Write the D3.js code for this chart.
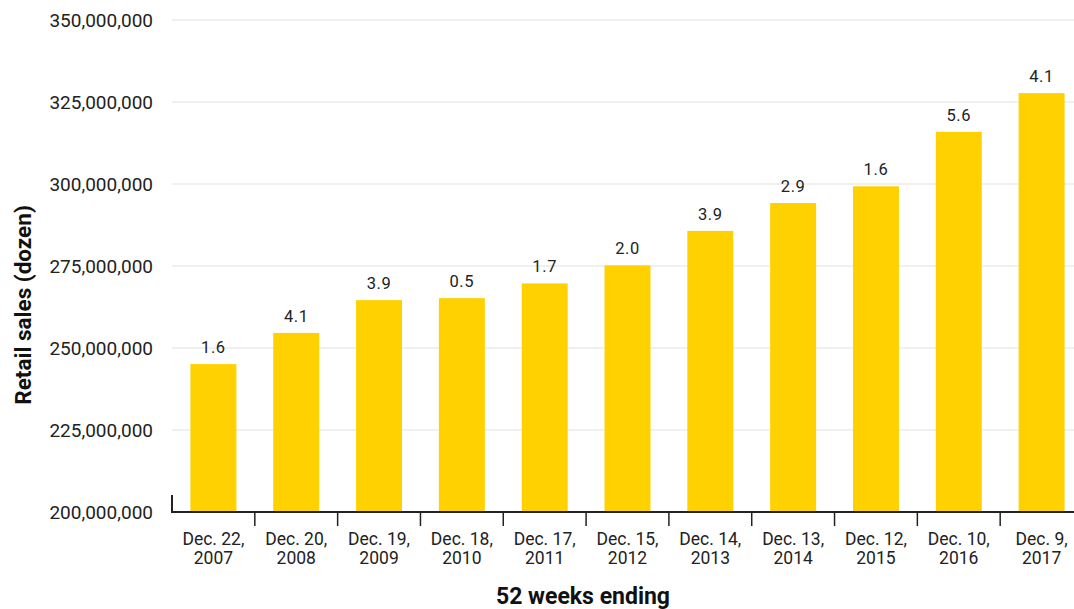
<!DOCTYPE html>
<html>
<head>
<meta charset="utf-8">
<script src="https://cdn.jsdelivr.net/npm/d3@7"></script>
<style>
  html, body { margin: 0; padding: 0; background: #fff; }
  svg { display: block; font-family: Roboto, "DejaVu Sans", sans-serif; }
</style>
</head>
<body>
<svg id="chart" width="1074" height="609"></svg>
<script>
// 52-week periods (two-line labels)
const periods = [
  ["Dec. 22,", "2007"], ["Dec. 20,", "2008"], ["Dec. 19,", "2009"],
  ["Dec. 18,", "2010"], ["Dec. 17,", "2011"], ["Dec. 15,", "2012"],
  ["Dec. 14,", "2013"], ["Dec. 13,", "2014"], ["Dec. 12,", "2015"],
  ["Dec. 10,", "2016"], ["Dec. 9,", "2017"]
];
// Retail sales in dozens
const sales = [
  245100000, 254600000, 264600000, 265200000, 269700000, 275200000,
  285700000, 294200000, 299300000, 315900000, 327700000
];
// Year-over-year change (%) shown above each bar
const changes = ["1.6", "4.1", "3.9", "0.5", "1.7", "2.0", "3.9", "2.9", "1.6", "5.6", "4.1"];
const yTicks = [200000000, 225000000, 250000000, 275000000, 300000000, 325000000, 350000000];

const svg = d3.select("#chart");
const plotLeft = 172, plotRight = 1083, plotTop = 20, plotBottom = 512;
const ink = "#222";

const keys = periods.map(p => p.join(" "));
const x = d3.scaleBand().domain(keys).range([plotLeft, plotRight])
  .paddingInner(0.445).paddingOuter(0.2225);
const y = d3.scaleLinear().domain([200000000, 350000000]).range([plotBottom, plotTop]);

// horizontal gridlines
svg.append("g").selectAll("line").data(yTicks.slice(1)).join("line")
  .attr("x1", plotLeft).attr("x2", 1074)
  .attr("y1", d => y(d)).attr("y2", d => y(d))
  .attr("stroke", "#ebebeb").attr("stroke-width", 1.5);

// y axis labels
const yAxis = d3.axisLeft(y).tickValues(yTicks).tickFormat(d3.format(",")).tickSize(0).tickPadding(19);
const gy = svg.append("g").attr("transform", `translate(${plotLeft},0)`).call(yAxis);
gy.select(".domain").remove();
gy.selectAll("text").attr("font-size", 19).attr("fill", ink)
  .attr("font-family", "Roboto, sans-serif");

// bars
svg.append("g").selectAll("rect").data(sales).join("rect")
  .attr("x", (d, i) => x(keys[i]))
  .attr("width", x.bandwidth())
  .attr("y", d => y(d))
  .attr("height", d => y(200000000) - y(d))
  .attr("fill", "#FFD100");

// value labels
svg.append("g").selectAll("text").data(sales).join("text")
  .attr("x", (d, i) => x(keys[i]) + x.bandwidth() / 2)
  .attr("y", d => y(d) - 11)
  .attr("text-anchor", "middle")
  .attr("font-size", 16.5)
  .attr("letter-spacing", 0.6)
  .attr("fill", ink)
  .text((d, i) => changes[i]);

// x axis baseline and separators between periods
const gx = svg.append("g");
gx.append("line").attr("x1", plotLeft).attr("x2", 1074)
  .attr("y1", plotBottom).attr("y2", plotBottom)
  .attr("stroke", ink).attr("stroke-width", 2);
gx.append("line").attr("x1", plotLeft).attr("x2", plotLeft)
  .attr("y1", plotBottom - 17).attr("y2", plotBottom + 1)
  .attr("stroke", ink).attr("stroke-width", 2);
const step = x.step();
gx.selectAll("line.sep").data(d3.range(1, keys.length)).join("line")
  .attr("class", "sep")
  .attr("x1", i => plotLeft + i * step).attr("x2", i => plotLeft + i * step)
  .attr("y1", plotBottom).attr("y2", plotBottom + 14)
  .attr("stroke", ink).attr("stroke-width", 1.5);

// period labels: month/day line and year line as separate texts
const periodG = gx.selectAll("g.period").data(periods).join("g")
  .attr("class", "period")
  .attr("transform", (d, i) => `translate(${x(keys[i]) + x.bandwidth() / 2},0)`);
periodG.append("text").attr("y", 545)
  .attr("text-anchor", "middle").attr("font-size", 17.5).attr("fill", ink)
  .text(d => d[0]);
periodG.append("text").attr("y", 564)
  .attr("text-anchor", "middle").attr("font-size", 17.5).attr("fill", ink)
  .text(d => d[1]);

// axis titles
svg.append("text")
  .attr("x", 583).attr("y", 604)
  .attr("text-anchor", "middle")
  .attr("font-size", 23).attr("font-weight", "bold").attr("fill", "#111")
  .text("52 weeks ending");
svg.append("text")
  .attr("transform", "translate(31,305) rotate(-90)")
  .attr("text-anchor", "middle")
  .attr("font-size", 22.5).attr("font-weight", "bold").attr("fill", "#111")
  .text("Retail sales (dozen)");
</script>
</body>
</html>
